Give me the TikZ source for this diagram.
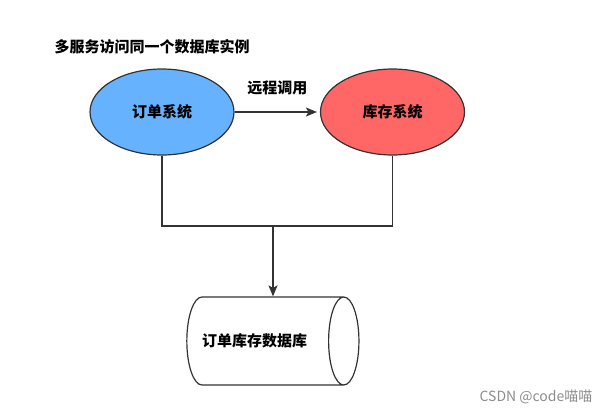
\documentclass[tikz,border=0pt]{standalone}
\usepackage{fontspec}
\setmainfont{Noto Sans CJK SC}
\usepackage{tikz}
\usetikzlibrary{shapes.geometric, arrows.meta, positioning, calc}
\usepackage{xcolor}
\definecolor{linegray}{HTML}{333333}
\definecolor{orderblue}{HTML}{66B2FF}
\definecolor{stockred}{HTML}{FF6666}

\begin{document}
\begin{tikzpicture}[x=1pt, y=-1pt,
        system/.style={ellipse, draw=linegray, line width=1.2pt, minimum width=144pt, minimum height=86pt, inner sep=0pt, font=\fontsize{15}{17}\selectfont\bfseries},
        store/.style={cylinder, draw=linegray, line width=1.2pt, aspect=2.1, minimum width=88pt, minimum height=168pt, inner sep=0pt, font=\fontsize{15}{17}\selectfont\bfseries},
        link/.style={draw=linegray, line width=1.2pt},
        arrow/.style={-{Stealth[length=11pt, width=9pt, inset=2.5pt]}, line width=1.2pt, draw=linegray}
    ]
        \useasboundingbox (0,0) rectangle (615,413);
        % Titulo
        \node [anchor=west, font=\fontsize{15}{17}\selectfont\bfseries] (title) at (51, 47) {多服务访问同一个数据库实例};

        % Sistemas
        \node [system, fill=orderblue] (order) at (162, 112) {订单系统};
        \node [system, fill=stockred] (stock) at (392.5, 112) {库存系统};
        \draw [arrow, shorten >=3pt] (order) -- node[above=13pt, font=\fontsize{15}{17}\selectfont\bfseries] (call) {远程调用} (stock);

        % Base de datos compartida
        \node [store] (db) at (265, 341) {订单库存数据库\hspace*{21pt}};
        \coordinate (join) at (273, 226);
        \draw [link] (order.south) |- (join) -| (stock.south);
        \draw [arrow] (join) -- (join |- db.north);

        \node [text=black!45, font=\fontsize{14}{16}\selectfont] (mark) at (536, 397) {CSDN @code喵喵};
    \end{tikzpicture}
\end{document}
